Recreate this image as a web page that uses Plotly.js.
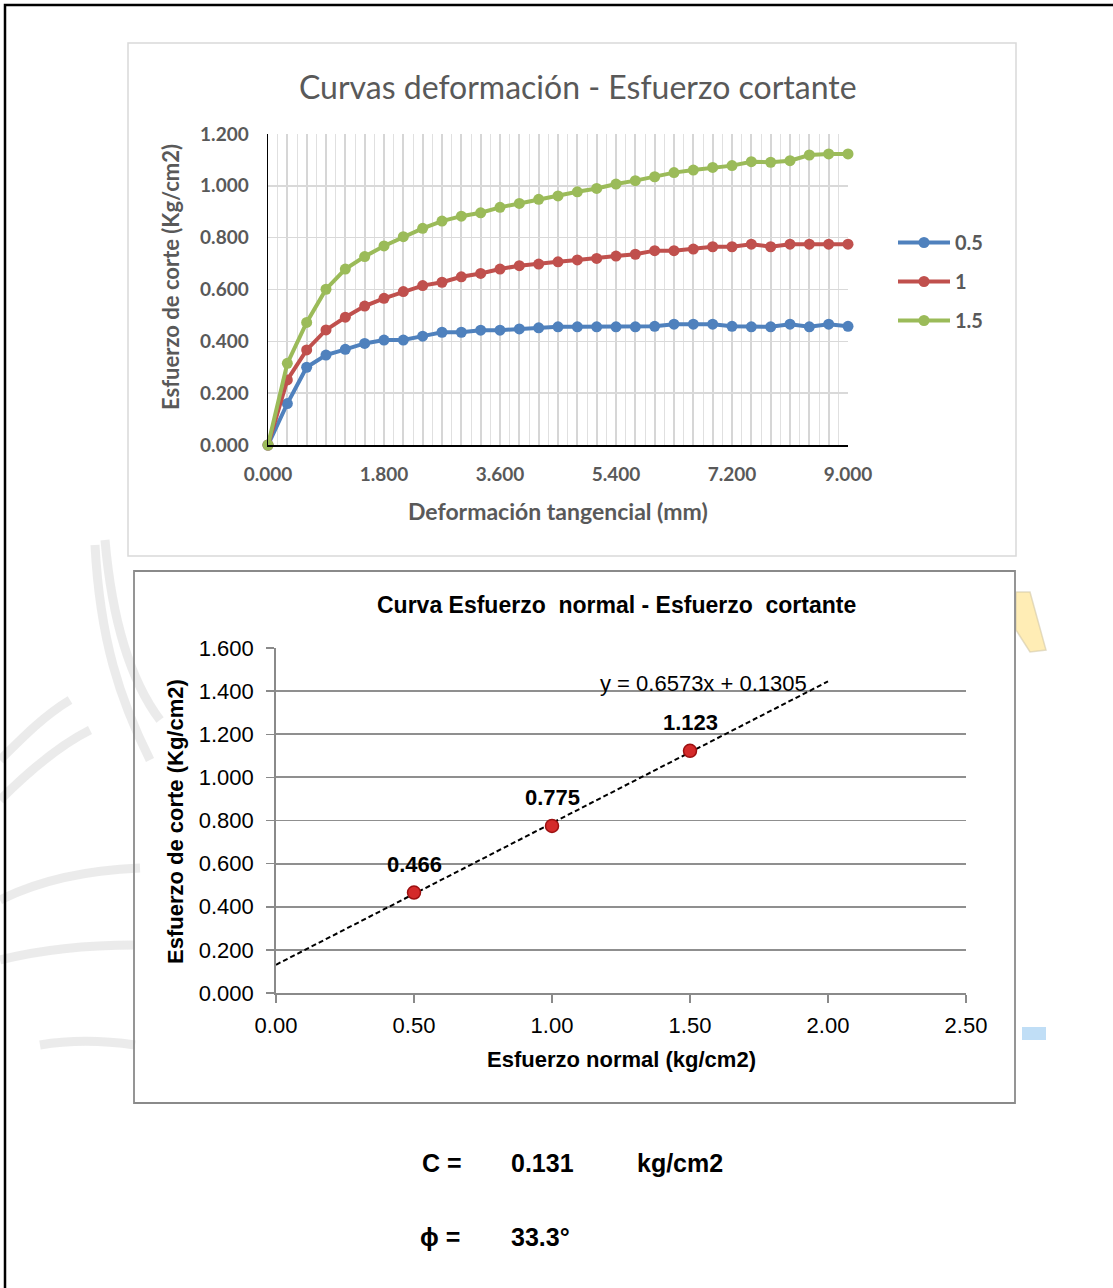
<!DOCTYPE html>
<html>
<head>
<meta charset="utf-8">
<script src="https://cdn.plot.ly/plotly-3.0.1.min.js"></script>
<style>
html,body{margin:0;padding:0;background:#fff;}
#chart{width:1113px;height:1288px;}
</style>
</head>
<body>
<div id="chart"></div>
<script>
// ---------- DATA ----------
// Top chart: deformation (mm) vs shear stress (kg/cm2) for three normal stresses
const deformacion = [0.0,0.3,0.6,0.9,1.2,1.5,1.8,2.1,2.4,2.7,3.0,3.3,3.6,3.9,4.2,4.5,4.8,5.1,5.4,5.7,6.0,6.3,6.6,6.9,7.2,7.5,7.8,8.1,8.4,8.7,9.0];
const serieNames = ["0.5","1","1.5"];
const corte05 = [0,0.160,0.300,0.347,0.369,0.392,0.405,0.405,0.420,0.435,0.435,0.443,0.443,0.448,0.452,0.456,0.456,0.456,0.456,0.456,0.458,0.466,0.466,0.466,0.458,0.456,0.456,0.466,0.456,0.466,0.458];
const corte10 = [0,0.251,0.367,0.444,0.493,0.536,0.566,0.592,0.615,0.628,0.649,0.662,0.679,0.692,0.698,0.707,0.714,0.720,0.729,0.736,0.750,0.750,0.756,0.765,0.765,0.775,0.765,0.775,0.775,0.775,0.775];
const corte15 = [0,0.315,0.473,0.601,0.679,0.727,0.768,0.804,0.836,0.864,0.883,0.896,0.917,0.932,0.948,0.961,0.977,0.990,1.007,1.020,1.035,1.051,1.061,1.071,1.078,1.093,1.091,1.097,1.119,1.123,1.123];
const xTickLabelEvery = 6; // labels at 0.000, 1.800, 3.600 ...

// Bottom chart: normal stress vs max shear stress
const esfNormal = [0.5, 1.0, 1.5];
const esfCorteMax = [0.466, 0.775, 1.123];
const trendRange = [0, 2.0];
const ecuacion = "y = 0.6573x + 0.1305";

// Results
const resultados = [
  {label:"C =", value:"0.131", unit:"kg/cm2"},
  {label:"\u03D5 =", value:"33.3\u00B0", unit:""}
];

// ---------- LAYOUT HELPERS ----------
const W = 1113, H = 1288;
const px = x => x / W;
const py = y => 1 - y / H;

const colors = ["#4f81bd", "#c0504d", "#9bbb59"];
const grayTxt = "#595959";
const topFont = "Lato, 'Open Sans', sans-serif";
const botFont = "'Liberation Sans', Arial, sans-serif";

// ---------- TRACES ----------
const series = [corte05, corte10, corte15];
const traces = series.map((s, i) => ({
  type: "scatter", mode: "lines+markers",
  x: deformacion, y: s, name: serieNames[i],
  xaxis: "x", yaxis: "y",
  legendgroup: "g" + i,
  line: {color: colors[i], width: 4},
  marker: {color: colors[i], size: 11},
  cliponaxis: false
}));

// linear regression of bottom points
const n = esfNormal.length;
const mx = esfNormal.reduce((a,b)=>a+b,0)/n;
const my = esfCorteMax.reduce((a,b)=>a+b,0)/n;
let sxy = 0, sxx = 0;
for (let i=0;i<n;i++){ sxy += (esfNormal[i]-mx)*(esfCorteMax[i]-my); sxx += (esfNormal[i]-mx)**2; }
const slope = sxy/sxx, intercept = my - slope*mx;

traces.push({
  type: "scatter", mode: "lines",
  x: trendRange, y: trendRange.map(v => slope*v + intercept),
  xaxis: "x2", yaxis: "y2", showlegend: false,
  line: {color: "#000", width: 2, dash: "5px,3px"}, hoverinfo: "skip"
});
traces.push({
  type: "scatter", mode: "markers",
  x: esfNormal, y: esfCorteMax,
  xaxis: "x2", yaxis: "y2", showlegend: false,
  marker: {color: "#d42a2a", size: 13, line: {color: "#9c1010", width: 1.5}},
  cliponaxis: false
});

// ---------- ANNOTATIONS ----------
const ann = [];
ann.push({xref:"paper", yref:"paper", x:px(578), y:py(86), text:"Curvas deformación - Esfuerzo cortante",
  showarrow:false, xanchor:"center", yanchor:"middle", font:{family:topFont, size:32, color:grayTxt}});
ann.push({xref:"paper", yref:"paper", x:px(558), y:py(511), text:"Deformación tangencial (mm)",
  showarrow:false, xanchor:"center", yanchor:"middle", font:{family:topFont, size:23, color:grayTxt, weight:"bold"}});
ann.push({xref:"paper", yref:"paper", x:px(170), y:py(277), text:"Esfuerzo de corte (Kg/cm2)", textangle:-90,
  showarrow:false, xanchor:"center", yanchor:"middle", font:{family:topFont, size:22, color:grayTxt, weight:"bold"}});

ann.push({xref:"paper", yref:"paper", x:px(616), y:py(605), text:"Curva Esfuerzo  normal - Esfuerzo  cortante",
  showarrow:false, xanchor:"center", yanchor:"middle", font:{family:botFont, size:23, color:"#000", weight:"bold"}});
ann.push({xref:"paper", yref:"paper", x:px(621), y:py(1059), text:"Esfuerzo normal (kg/cm2)",
  showarrow:false, xanchor:"center", yanchor:"middle", font:{family:botFont, size:22, color:"#000", weight:"bold"}});
ann.push({xref:"paper", yref:"paper", x:px(175), y:py(822), text:"Esfuerzo de corte (Kg/cm2)", textangle:-90,
  showarrow:false, xanchor:"center", yanchor:"middle", font:{family:botFont, size:22, color:"#000", weight:"bold"}});
ann.push({xref:"paper", yref:"paper", x:px(703), y:py(684), text:ecuacion,
  showarrow:false, xanchor:"center", yanchor:"middle", font:{family:botFont, size:22, color:"#000"}});
esfNormal.forEach((x, i) => {
  ann.push({xref:"x2", yref:"y2", x:x, y:esfCorteMax[i], text:esfCorteMax[i].toFixed(3),
    showarrow:false, xanchor:"center", yanchor:"middle", yshift:28,
    font:{family:botFont, size:22, color:"#000", weight:"bold"}});
});
const resY = [1163, 1237];
resultados.forEach((r, i) => {
  const f = {family:botFont, size:25, color:"#000", weight:"bold"};
  ann.push({xref:"paper", yref:"paper", x:px(i===0?420:418), y:py(resY[i]), text:r.label, showarrow:false, xanchor:"left", yanchor:"middle", font:f});
  ann.push({xref:"paper", yref:"paper", x:px(509), y:py(resY[i]), text:r.value, showarrow:false, xanchor:"left", yanchor:"middle", font:f});
  if (r.unit) ann.push({xref:"paper", yref:"paper", x:px(635), y:py(resY[i]), text:r.unit, showarrow:false, xanchor:"left", yanchor:"middle", font:f});
});

// ---------- SHAPES ----------
const shapes = [];
// watermark (faint background decoration)
const wm = "rgba(215,215,215,0.5)";
[
  "M 95 545 C 100 640 120 700 150 760",
  "M 105 540 C 112 620 130 680 160 720",
  "M 0 800 C 30 770 60 745 90 730",
  "M 0 760 C 25 735 45 715 70 700",
  "M 0 900 C 40 880 90 870 140 868",
  "M 0 960 C 40 950 90 945 135 945",
  "M 40 1045 C 70 1040 100 1040 135 1045"
].forEach(p => shapes.push({type:"path", xref:"paper", yref:"paper", layer:"below",
  path: p.replace(/(\d+(\.\d+)?) (\d+(\.\d+)?)/g, (m,a,b,c) => px(+a)+" "+py(+c)),
  line:{color:wm, width:9}}));
shapes.push({type:"path", xref:"paper", yref:"paper", layer:"below",
  path:"M "+px(1016)+" "+py(592)+" L "+px(1030)+" "+py(592)+" L "+px(1046)+" "+py(650)+" L "+px(1030)+" "+py(652)+" L "+px(1016)+" "+py(630)+" Z",
  fillcolor:"rgba(255,230,150,0.7)", line:{color:"rgba(210,200,170,0.6)", width:1.5}});
shapes.push({type:"rect", xref:"paper", yref:"paper", layer:"below",
  x0:px(1022), x1:px(1046), y0:py(1040), y1:py(1027), fillcolor:"rgba(150,200,240,0.6)", line:{width:0}});

// outer frame
shapes.push({type:"rect", xref:"paper", yref:"paper", x0:px(5), x1:px(1120), y0:py(5), y1:py(1300),
  line:{color:"#000", width:2.5}});
// chart boxes
shapes.push({type:"rect", xref:"paper", yref:"paper", x0:px(128), x1:px(1016), y0:py(43), y1:py(556),
  line:{color:"#d9d9d9", width:1.5}});
shapes.push({type:"rect", xref:"paper", yref:"paper", x0:px(134), x1:px(1015), y0:py(571), y1:py(1103),
  line:{color:"#8a8a8a", width:1.8}});

// ---------- LAYOUT ----------
const layout = {
  width: W, height: H,
  margin: {l:0, r:0, t:0, b:0},
  paper_bgcolor: "#fff", plot_bgcolor: "rgba(0,0,0,0)",
  showlegend: true,
  legend: {x:px(893), y:py(223), xanchor:"left", yanchor:"top",
    font:{family:topFont, size:20, color:grayTxt, weight:"bold"},
    itemwidth: 52,
    tracegroupgap: 10, bgcolor:"rgba(0,0,0,0)"},
  xaxis: {domain:[px(268), px(848)], range:[0, 9], anchor:"y",
    tickmode:"array", tickvals: deformacion,
    ticktext: deformacion.map((v,i) => i % xTickLabelEvery === 0 ? v.toFixed(3) : ""),
    showgrid:true, gridcolor:"#d6d6d6", gridwidth:2,
    minor:{dtick:0.15, tick0:0, showgrid:true, gridcolor:"#e0e0e0", gridwidth:1, ticks:""},
    showline:true, linecolor:"#000", linewidth:1.5, zeroline:false, ticks:"",
    tickfont:{family:topFont, size:19, color:grayTxt, weight:"bold"}, ticklabelstandoff:12},
  yaxis: {domain:[py(445), py(134)], range:[0, 1.2], anchor:"x",
    dtick:0.2, tick0:0, tickformat:".3f",
    showgrid:true, gridcolor:"#d9d9d9", gridwidth:1.5,
    showline:true, linecolor:"#000", linewidth:1.5, zeroline:false, ticks:"",
    tickfont:{family:topFont, size:19, color:grayTxt, weight:"bold"}, ticklabelstandoff:14},
  xaxis2: {domain:[px(276), px(966)], range:[0, 2.5], anchor:"y2",
    dtick:0.5, tick0:0, tickformat:".2f",
    showgrid:false, showline:true, linecolor:"#8a8a8a", linewidth:1.8, zeroline:false,
    ticks:"outside", ticklen:8, tickcolor:"#8a8a8a", tickwidth:1.5,
    tickfont:{family:botFont, size:22, color:"#000"}, ticklabelstandoff:4},
  yaxis2: {domain:[py(993), py(648)], range:[0, 1.6], anchor:"x2",
    dtick:0.2, tick0:0, tickformat:".3f",
    showgrid:true, gridcolor:"#8f8f8f", gridwidth:1.8,
    showline:true, linecolor:"#8a8a8a", linewidth:1.8, zeroline:false,
    ticks:"outside", ticklen:8, tickcolor:"#8a8a8a", tickwidth:1.5,
    tickfont:{family:botFont, size:22, color:"#000"}, ticklabelstandoff:8},
  annotations: ann,
  shapes: shapes
};

Plotly.newPlot("chart", traces, layout, {staticPlot:true, displayModeBar:false});
</script>
</body>
</html>
